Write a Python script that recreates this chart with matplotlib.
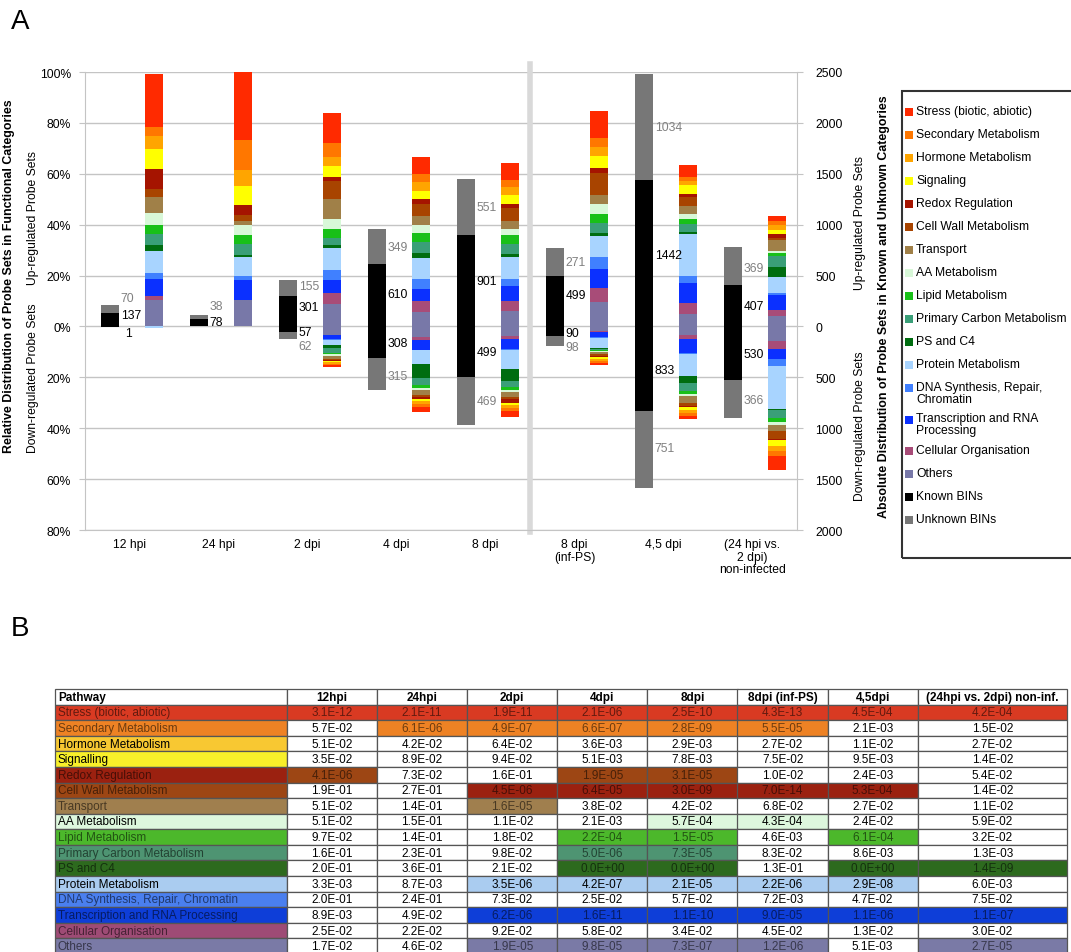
import numpy as np
import matplotlib.pyplot as plt
from matplotlib.patches import Rectangle

plt.rcParams['font.family'] = ['Liberation Sans', 'DejaVu Sans']

W, H = 1071, 953

groups = ['12 hpi', '24 hpi', '2 dpi', '4 dpi', '8 dpi', '8 dpi\n(inf-PS)', '4,5 dpi',
          '(24 hpi vs.\n2 dpi)\nnon-infected']

categories = ['Stress (biotic, abiotic)', 'Secondary Metabolism', 'Hormone Metabolism',
              'Signaling', 'Redox Regulation', 'Cell Wall Metabolism', 'Transport',
              'AA Metabolism', 'Lipid Metabolism', 'Primary Carbon Metabolism', 'PS and C4',
              'Protein Metabolism', 'DNA Synthesis, Repair,\nChromatin',
              'Transcription and RNA\nProcessing', 'Cellular Organisation', 'Others']
cat_colors = ['#ff2a00', '#ff7700', '#ffa500', '#ffff00', '#a51400', '#a84400', '#a08048',
              '#d8f8d8', '#18c018', '#3a9f78', '#006d10', '#a8d4ff', '#4080ff', '#0b30ff',
              '#a84c78', '#7878a8']

# % of known probe sets per category (rows = categories, cols = groups)
up_pct = np.array([
    [21.1, 26.8, 11.9, 6.5, 6.7, 10.8, 4.8, 2.1],
    [3.4, 11.8, 5.5, 3.3, 2.9, 3.5, 1.4, 1.6],
    [5.1, 6.3, 3.7, 3.3, 3.3, 3.4, 1.8, 1.7],
    [8.0, 7.7, 4.2, 3.4, 3.3, 4.6, 3.4, 1.8],
    [7.8, 3.7, 1.7, 2.0, 1.6, 2.2, 1.3, 1.4],
    [2.9, 2.6, 7.1, 4.6, 5.2, 8.5, 3.5, 0.9],
    [6.6, 1.3, 7.8, 3.5, 3.0, 3.7, 2.9, 4.2],
    [4.4, 3.9, 3.7, 3.3, 2.4, 3.9, 2.0, 1.0],
    [3.7, 3.7, 3.5, 3.3, 3.5, 3.5, 2.0, 1.0],
    [4.3, 4.2, 3.0, 4.6, 3.9, 3.7, 3.0, 4.2],
    [2.2, 1.0, 1.2, 1.7, 1.3, 1.3, 0.9, 3.9],
    [8.6, 7.5, 8.5, 8.5, 8.8, 8.4, 16.5, 6.5],
    [2.4, 1.6, 4.0, 3.9, 2.7, 4.6, 2.9, 0.7],
    [7.0, 7.6, 4.9, 4.6, 5.9, 7.6, 7.6, 6.1],
    [1.3, 0.0, 4.3, 4.2, 3.8, 5.2, 4.6, 2.0],
    [10.5, 10.5, 9.0, 5.8, 6.1, 9.8, 4.8, 4.3],
])
down_pct = np.array([
    [0, 0, 0.6, 1.7, 2.0, 0.9, 1.4, 5.2],
    [0, 0, 0.6, 1.2, 1.3, 0.7, 0.9, 2.0],
    [0, 0, 0.6, 1.3, 1.3, 0.9, 1.3, 2.0],
    [0, 0, 0.5, 0.8, 0.9, 0.8, 1.3, 2.4],
    [0, 0, 0.4, 0.9, 1.3, 0.5, 0.3, 0.3],
    [0, 0, 0.3, 0.7, 0.7, 0.5, 1.3, 3.5],
    [0, 0, 1.3, 2.0, 2.0, 0.9, 2.4, 2.0],
    [0, 0, 0.6, 0.7, 1.0, 0.4, 1.0, 1.3],
    [0, 0, 0.5, 1.0, 1.0, 0.3, 1.3, 1.7],
    [0, 0, 1.8, 3.1, 2.6, 0.5, 2.9, 3.0],
    [0, 0, 1.5, 5.2, 4.4, 0.4, 2.9, 0.5],
    [0.7, 0, 1.7, 5.5, 7.6, 4.0, 8.6, 16.7],
    [0, 0, 0.3, 0.3, 0.3, 0.2, 0.3, 2.9],
    [0, 0, 1.6, 3.7, 3.9, 2.1, 5.5, 3.9],
    [0, 0, 0.3, 1.3, 1.3, 0.6, 1.7, 3.0],
    [0, 0, 3.2, 4.1, 3.8, 1.6, 3.3, 5.9],
])

# absolute numbers of probe sets
known_up = np.array([137, 78, 301, 610, 901, 499, 1442, 407])
unknown_up = np.array([70, 38, 155, 349, 551, 271, 1034, 369])
known_down = np.array([1, 0, 57, 308, 499, 90, 833, 530])
unknown_down = np.array([0, 0, 62, 315, 469, 98, 751, 366])

# table B
pathways = ['Stress (biotic, abiotic)', 'Secondary Metabolism', 'Hormone Metabolism',
            'Signalling', 'Redox Regulation', 'Cell Wall Metabolism', 'Transport',
            'AA Metabolism', 'Lipid Metabolism', 'Primary Carbon Metabolism', 'PS and C4',
            'Protein Metabolism', 'DNA Synthesis, Repair, Chromatin',
            'Transcription and RNA Processing', 'Cellular Organisation', 'Others']
table_cols = ['12hpi', '24hpi', '2dpi', '4dpi', '8dpi', '8dpi (inf-PS)', '4,5dpi',
              '(24hpi vs. 2dpi) non-inf.']
pvalues = [
    ['3.1E-12', '2.1E-11', '1.9E-11', '2.1E-06', '2.5E-10', '4.3E-13', '4.5E-04', '4.2E-04'],
    ['5.7E-02', '6.1E-06', '4.9E-07', '6.6E-07', '2.8E-09', '5.5E-05', '2.1E-03', '1.5E-02'],
    ['5.1E-02', '4.2E-02', '6.4E-02', '3.6E-03', '2.9E-03', '2.7E-02', '1.1E-02', '2.7E-02'],
    ['3.5E-02', '8.9E-02', '9.4E-02', '5.1E-03', '7.8E-03', '7.5E-02', '9.5E-03', '1.4E-02'],
    ['4.1E-06', '7.3E-02', '1.6E-01', '1.9E-05', '3.1E-05', '1.0E-02', '2.4E-03', '5.4E-02'],
    ['1.9E-01', '2.7E-01', '4.5E-06', '6.4E-05', '3.0E-09', '7.0E-14', '5.3E-04', '1.4E-02'],
    ['5.1E-02', '1.4E-01', '1.6E-05', '3.8E-02', '4.2E-02', '6.8E-02', '2.7E-02', '1.1E-02'],
    ['5.1E-02', '1.5E-01', '1.1E-02', '2.1E-03', '5.7E-04', '4.3E-04', '2.4E-02', '5.9E-02'],
    ['9.7E-02', '1.4E-01', '1.8E-02', '2.2E-04', '1.5E-05', '4.6E-03', '6.1E-04', '3.2E-02'],
    ['1.6E-01', '2.3E-01', '9.8E-02', '5.0E-06', '7.3E-05', '8.3E-02', '8.6E-03', '1.3E-03'],
    ['2.0E-01', '3.6E-01', '2.1E-02', '0.0E+00', '0.0E+00', '1.3E-01', '0.0E+00', '1.4E-09'],
    ['3.3E-03', '8.7E-03', '3.5E-06', '4.2E-07', '2.1E-05', '2.2E-06', '2.9E-08', '6.0E-03'],
    ['2.0E-01', '2.4E-01', '7.3E-02', '2.5E-02', '5.7E-02', '7.2E-03', '4.7E-02', '7.5E-02'],
    ['8.9E-03', '4.9E-02', '6.2E-06', '1.6E-11', '1.1E-10', '9.0E-05', '1.1E-06', '1.1E-07'],
    ['2.5E-02', '2.2E-02', '9.2E-02', '5.8E-02', '3.4E-02', '4.5E-02', '1.3E-02', '3.0E-02'],
    ['1.7E-02', '4.6E-02', '1.9E-05', '9.8E-05', '7.3E-07', '1.2E-06', '5.1E-03', '2.7E-05'],
]
row_colors = ['#d93a22', '#ee8224', '#f8c832', '#f8f02a', '#9b2110', '#9d4614', '#a07f4e',
              '#ddf7dd', '#4cb82b', '#4e9472', '#2d6a1e', '#aaccf0', '#4a7fef', '#0e3ed8',
              '#9e4b75', '#7a7aa6']
hit_colors = row_colors.copy()
hit_colors[4], hit_colors[5] = row_colors[5], row_colors[4]

def fx(x):
    return x / W

def fy(y):
    return 1 - y / H

fig = plt.figure(figsize=(W / 100, H / 100), dpi=100)

# ---------------- panel A ----------------
ax = fig.add_axes([fx(85), fy(531), 712 / W, 458 / H])
ax2 = ax.twinx()
grid_c = '#c4c4c4'

slots = np.arange(len(groups))
xc = slots + 0.775   # coloured (relative) bars
xb = slots + 0.281   # known / unknown bars
bw = 0.2

cum_up = np.zeros(len(groups))
cum_dn = np.zeros(len(groups))
for k in reversed(range(len(categories))):
    ax.bar(xc, up_pct[k], bw, bottom=cum_up, color=cat_colors[k], lw=0, zorder=3)
    ax.bar(xc, -down_pct[k], bw, bottom=-cum_dn, color=cat_colors[k], lw=0, zorder=3)
    cum_up += up_pct[k]
    cum_dn += down_pct[k]

ax2.bar(xb, known_up, bw, color='black', lw=0)
ax2.bar(xb, unknown_up, bw, bottom=known_up, color='#777777', lw=0)
ax2.bar(xb, -known_down, bw, color='black', lw=0)
ax2.bar(xb, -unknown_down, bw, bottom=-known_down, color='#777777', lw=0)

# number labels (nudged away from small segments)
nudge_ku = [40, 0, 42, 18, 0, 55, -20, 0]
nudge_uu = [112, 102, 20, 0, 0, 0, 0, -20]
nudge_kd = [-60, 0, -25, -6, 0, -18, -8, -5]
nudge_ud = [0, 0, -105, -22, 0, -63, 13, -5]
lx = xb + bw / 2 + 0.02
fs = 8.7
for j in range(len(groups)):
    ax2.text(lx[j], known_up[j] / 2 + nudge_ku[j], str(known_up[j]), fontsize=fs,
             va='center', ha='left', color='black')
    ax2.text(lx[j], known_up[j] + unknown_up[j] / 2 + nudge_uu[j], str(unknown_up[j]),
             fontsize=fs, va='center', ha='left', color='#808080')
    if known_down[j] > 0:
        ax2.text(lx[j] + (0.05 if known_down[j] < 10 else 0), -known_down[j] / 2 + nudge_kd[j],
                 str(known_down[j]), fontsize=fs, va='center', ha='left', color='black')
    if unknown_down[j] > 0:
        ax2.text(lx[j], -known_down[j] - unknown_down[j] / 2 + nudge_ud[j], str(unknown_down[j]),
                 fontsize=fs, va='center', ha='left', color='#808080')

ax.set_xlim(0, len(groups))
ax.set_ylim(-80, 100)
ax2.set_ylim(-2000, 2500)
ax.set_yticks(np.arange(-80, 101, 20))
ax.set_yticklabels([f'{abs(v)}%' for v in range(-80, 101, 20)])
ax2.set_yticks(np.arange(-2000, 2501, 500))
ax2.set_yticklabels([str(abs(v)) for v in range(-2000, 2501, 500)])
ax.set_xticks(slots + 0.5)
ax.set_xticklabels(groups, linespacing=1.05)
ax.yaxis.grid(True, color=grid_c, lw=1)
ax.set_axisbelow(True)
ax.tick_params(axis='x', length=0, pad=6, labelsize=fs)
ax.tick_params(axis='y', length=4, color=grid_c, pad=6, labelsize=fs)
ax2.tick_params(axis='y', length=4, color=grid_c, pad=9, labelsize=fs)
for s in ['top', 'right']:
    ax.spines[s].set_visible(False)
for s in ['top', 'left', 'bottom']:
    ax2.spines[s].set_visible(False)
ax.spines['left'].set_color(grid_c)
ax.spines['bottom'].set_color(grid_c)
ax2.spines['right'].set_color(grid_c)
ax.axvline(5, ymin=-0.005, ymax=1.018, color='#d9d9d9', lw=4, clip_on=False, zorder=1)

# axis titles
fig.text(fx(9), fy(276), 'Relative Distribution of Probe Sets in Functional Categories',
         rotation=90, ha='center', va='center', fontsize=8.9, fontweight='bold')
fig.text(fx(33), fy(218), 'Up-regulated Probe Sets', rotation=90, ha='center', va='center',
         fontsize=fs)
fig.text(fx(33), fy(378), 'Down-regulated Probe Sets', rotation=90, ha='center', va='center',
         fontsize=fs)
fig.text(fx(860), fy(223), 'Up-regulated Probe Sets', rotation=90, ha='center', va='center',
         fontsize=fs)
fig.text(fx(860), fy(426), 'Down-regulated Probe Sets', rotation=90, ha='center', va='center',
         fontsize=fs)
fig.text(fx(884), fy(307),
         'Absolute Distribution of Probe Sets in Known and Unknown Categories',
         rotation=90, ha='center', va='center', fontsize=8.9, fontweight='bold')

# legend box
fig.patches.append(Rectangle((fx(902), fy(559)), 180 / W, 467 / H, transform=fig.transFigure,
                             fill=False, edgecolor='#333333', lw=1.5))
leg_labels = categories + ['Known BINs', 'Unknown BINs']
leg_colors = cat_colors + ['black', '#777777']
ly = 113
for lab, col in zip(leg_labels, leg_colors):
    fig.patches.append(Rectangle((fx(905), fy(ly + 4)), 8 / W, 8 / H,
                                 transform=fig.transFigure, color=col, lw=0))
    fig.text(fx(916), fy(ly - 7), lab, ha='left', va='top', fontsize=fs, linespacing=0.95)
    ly += 23 + 8.5 * lab.count('\n')

fig.text(fx(11), fy(29), 'A', fontsize=20, va='baseline')
fig.text(fx(11), fy(636), 'B', fontsize=20, va='baseline')

# ---------------- panel B ----------------
tax = fig.add_axes([fx(55), fy(955), 1012 / W, 265 / H])
tax.axis('off')
col_w = np.array([232] + [90.1] * 7 + [149.3])
col_w = col_w / col_w.sum()
cell_text = [[p] + v for p, v in zip(pathways, pvalues)]
tbl = tax.table(cellText=cell_text, colLabels=['Pathway'] + table_cols, colWidths=col_w,
                cellLoc='center', colLoc='center', bbox=[0, 0, 1, 1])
tbl.auto_set_font_size(False)
tbl.set_fontsize(8.5)
for (r, c), cell in tbl.get_celld().items():
    cell.set_edgecolor('#555555')
    cell.set_linewidth(0.9)
    if c == 0:
        cell._loc = 'left'
        cell.PAD = 0.012
        cell.get_text().set_horizontalalignment('left')
    if r == 0:
        cell.set_text_props(fontweight='bold')
        continue
    i = r - 1
    face = None
    if c == 0:
        face = row_colors[i]
    elif float(pvalues[i][c - 1]) < 1e-3:
        face = hit_colors[i]
    if face is not None:
        cell.set_facecolor(face)
        rgb = np.array(plt.matplotlib.colors.to_rgb(face))
        lum = 0.3 * rgb[0] + 0.59 * rgb[1] + 0.11 * rgb[2]
        cell.get_text().set_color('black' if lum > 0.7 else rgb * 0.45)

fig.savefig('out.png', dpi=100)
